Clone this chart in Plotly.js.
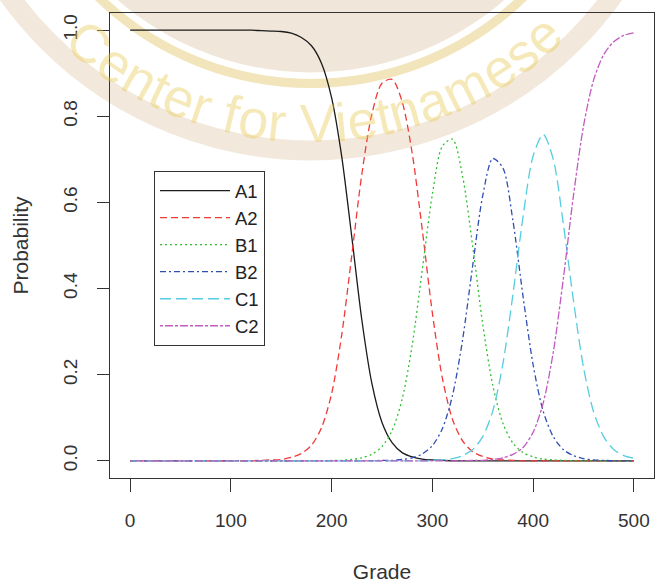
<!DOCTYPE html>
<html>
<head>
<meta charset="utf-8">
<script src="https://cdn.plot.ly/plotly-3.0.1.min.js"></script>
<style>html,body{margin:0;padding:0;background:#fff;}#chart{width:655px;height:583px;}</style>
</head>
<body>
<div id="chart"></div>
<script>
// ---- data ----
const grade = [0,10,20,30,40,50,60,70,80,90,100,110,120,130,140,150,160,170,180,190,
  200,210,220,230,240,250,260,270,280,290,300,310,320,330,340,350,360,370,380,390,
  400,410,420,430,440,450,460,470,480,490,500];
const seriesNames = ["A1","A2","B1","B2","C1","C2"];
const A1 = [1,1,1,1,1,1,1,1,1,1,1,1,1,0.999,0.998,0.997,0.993,0.983,0.964,0.923,
  0.843,0.707,0.520,0.327,0.179,0.089,0.042,0.019,0.009,0.004,0.002,0.001,0,0,0,0,0,0,0,0,
  0,0,0,0,0,0,0,0,0,0,0];
const A2 = [0,0,0,0,0,0,0,0,0,0,0,0,0,0.001,0.002,0.003,0.008,0.017,0.036,0.077,
  0.156,0.292,0.477,0.666,0.806,0.877,0.886,0.834,0.714,0.536,0.343,0.191,0.096,0.046,0.021,0.010,0.004,0.002,0.001,0,
  0,0,0,0,0,0,0,0,0,0,0];
const B1 = [0,0,0,0,0,0,0,0,0,0,0,0,0,0,0,0,0,0,0,0,
  0.001,0.001,0.003,0.007,0.015,0.033,0.070,0.143,0.269,0.444,0.619,0.731,0.747,0.661,0.499,0.317,0.175,0.087,0.041,0.019,
  0.009,0.004,0.002,0.001,0,0,0,0,0,0,0];
const B2 = [0,0,0,0,0,0,0,0,0,0,0,0,0,0,0,0,0,0,0,0,
  0,0,0,0,0,0.001,0.001,0.003,0.007,0.016,0.035,0.075,0.152,0.281,0.453,0.616,0.702,0.680,0.557,0.382,
  0.223,0.115,0.056,0.026,0.012,0.005,0.002,0.001,0,0,0];
const C1 = [0,0,0,0,0,0,0,0,0,0,0,0,0,0,0,0,0,0,0,0,
  0,0,0,0,0,0,0,0,0,0,0.001,0.002,0.005,0.012,0.026,0.056,0.116,0.225,0.387,0.567,
  0.708,0.758,0.700,0.550,0.373,0.217,0.114,0.056,0.026,0.012,0.006];
const C2 = [0,0,0,0,0,0,0,0,0,0,0,0,0,0,0,0,0,0,0,0,
  0,0,0,0,0,0,0,0,0,0,0,0,0,0,0.001,0.001,0.003,0.007,0.015,0.031,
  0.066,0.134,0.252,0.423,0.615,0.777,0.884,0.943,0.973,0.988,0.994];
const xTicks = [0,100,200,300,400,500];
const yTicks = [0,0.2,0.4,0.6,0.8,1.0];

// ---- styles ----
const colors = ["#1a1a1a","#f03a3a","#2fbf2f","#2f4fb0","#55cde0","#c05cc0"];
const dashes = ["solid","7px,4px","2px,3px","6px,3px,2px,3px","11px,5px","3px,2px,8px,2px"];
const values = [A1,A2,B1,B2,C1,C2];

const traces = seriesNames.map((n,i)=>({
  x: grade, y: values[i], name: n, type: "scatter", mode: "lines",
  line: {color: colors[i], width: 1.3, dash: dashes[i], shape: "spline", smoothing: 0.8},
  hoverinfo: "skip"
}));

// ---- pale watermark seal (decoration) ----
const PL = 110, PR = 654, PT = 13, PB = 478;
const px2x = p => (p - PL) / (PR - PL);
const py2y = p => (PB - p) / (PB - PT);
const cx = 311, cy = -221.6;
function circ(r, opts){
  return Object.assign({type:"circle", xref:"paper", yref:"paper", layer:"below",
    x0: px2x(cx - r), x1: px2x(cx + r), y0: py2y(cy + r), y1: py2y(cy - r)}, opts);
}
const shapes = [
  circ(372, {line:{color:"#f2e9dc", width:20}, fillcolor:"rgba(0,0,0,0)"}),
  circ(294, {line:{width:0}, fillcolor:"#f0e7da"}),
  circ(305, {line:{color:"#f2e5bb", width:9}, fillcolor:"rgba(0,0,0,0)"})
];
const wmText = "Center for Vietnamese";
const wAr = {C:.722,e:.556,n:.556,t:.278,r:.333," ":.278,f:.278,o:.556,V:.667,i:.222,a:.556,m:.833,s:.5};
let cum = [], acc = 0;
for (const ch of wmText){ const w = wAr[ch]; cum.push(acc + w/2); acc += w; }
const th0 = -40, th1 = 42;
const annotations = [];
for (let k = 0; k < wmText.length; k++){
  const ch = wmText[k];
  if (ch === " ") continue;
  const t = (cum[k] - cum[0]) / (cum[cum.length-1] - cum[0]);
  const th = th0 + t * (th1 - th0);
  const rad = th * Math.PI / 180, r = 345;
  const px = cx + r * Math.sin(rad), py = cy + r * Math.cos(rad);
  annotations.push({xref:"paper", yref:"paper", x: px2x(px), y: py2y(py),
    xanchor:"center", yanchor:"middle", showarrow:false, text: ch, textangle: -th,
    font:{family:"Liberation Sans, Arial, sans-serif", size:54, color:"rgba(232,200,80,0.40)"}});
}

const axisFont = {family:"Liberation Sans, Arial, sans-serif", size:19, color:"#333"};
const layout = {
  width: 655, height: 583,
  margin: {l: PL, r: 655 - PR, t: PT, b: 583 - PB, pad: 0},
  paper_bgcolor: "#ffffff", plot_bgcolor: "rgba(0,0,0,0)",
  font: {family:"Liberation Sans, Arial, sans-serif", color:"#333"},
  showlegend: true,
  legend: {x: px2x(154), y: py2y(171), xanchor:"left", yanchor:"top",
    bgcolor:"#ffffff", bordercolor:"#333", borderwidth:1,
    font:{family:"Liberation Sans, Arial, sans-serif", size:18.5, color:"#222"},
    itemwidth: 70, tracegroupgap: 0},
  xaxis: {range:[-20,520], tickvals: xTicks, ticktext: xTicks.map(String),
    ticks:"outside", ticklen:13, tickcolor:"#333", tickwidth:1,
    showline:true, mirror:true, linecolor:"#333", linewidth:1,
    showgrid:false, zeroline:false, tickfont: axisFont, ticklabelstandoff: 12,
    title:{text:"Grade", font:{family:"Liberation Sans, Arial, sans-serif", size:21, color:"#333"}, standoff: 35}},
  yaxis: {range:[-0.04,1.04], tickvals: yTicks, ticktext: yTicks.map(v=>v.toFixed(1)),
    ticks:"outside", ticklen:12, tickcolor:"#333", tickwidth:1, tickangle:-90,
    showline:true, mirror:true, linecolor:"#333", linewidth:1,
    showgrid:false, zeroline:false, tickfont: axisFont, ticklabelstandoff: 12,
    title:{text:"Probability", font:{family:"Liberation Sans, Arial, sans-serif", size:21, color:"#333"}, standoff: 26}},
  shapes: shapes,
  annotations: annotations
};
Plotly.newPlot("chart", traces, layout, {staticPlot:true, displayModeBar:false});
</script>
</body>
</html>
